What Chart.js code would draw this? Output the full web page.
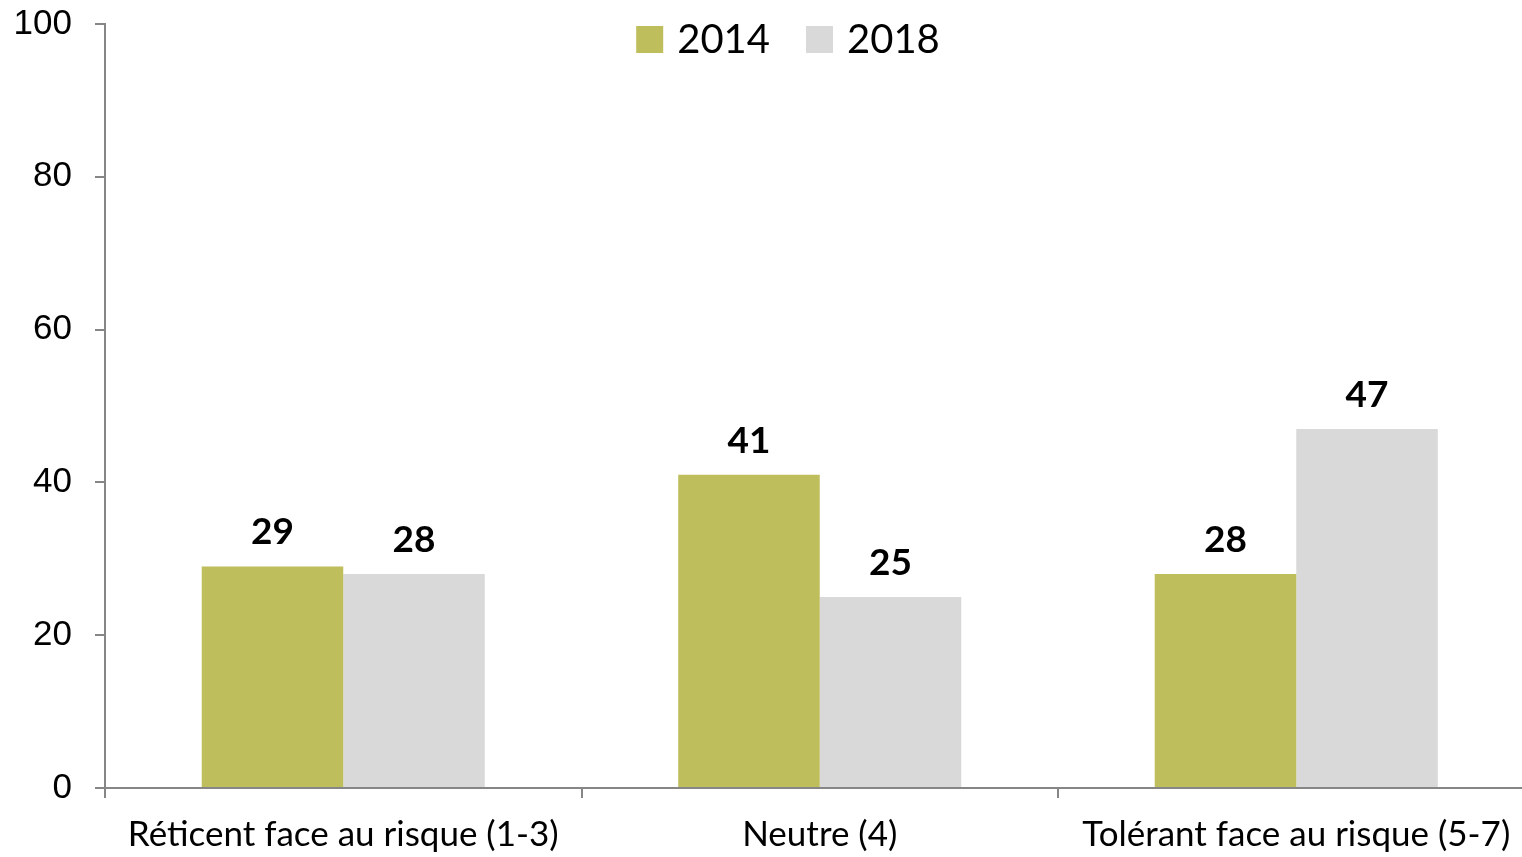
<!DOCTYPE html>
<html>
<head>
<meta charset="utf-8">
<script src="https://cdn.jsdelivr.net/npm/chart.js@4.4.0/dist/chart.umd.min.js"></script>
<style>
  html, body { margin: 0; padding: 0; overflow: hidden; background: #fff; }
  canvas { display: block; }
</style>
</head>
<body>
<canvas id="chart" width="1536" height="857"></canvas>
<script>
  const categories = ['Réticent face au risque (1-3)', 'Neutre (4)', 'Tolérant face au risque (5-7)'];
  const values2014 = [29, 41, 28];
  const values2018 = [28, 25, 47];
  const yTicks = [0, 20, 40, 60, 80, 100];

  const axisColor = '#868686';

  // value labels above each bar
  const valueLabels = {
    id: 'valueLabels',
    afterDatasetsDraw(chart) {
      const ctx = chart.ctx;
      ctx.save();
      ctx.font = 'bold 37px Lato';
      ctx.fillStyle = '#000';
      ctx.textAlign = 'center';
      ctx.textBaseline = 'alphabetic';
      chart.data.datasets.forEach((ds, i) => {
        chart.getDatasetMeta(i).data.forEach((bar, j) => {
          ctx.fillText(ds.data[j], bar.x, bar.y - 22);
        });
      });
      ctx.restore();
    }
  };

  // legend drawn inside the plot, top centre
  const topLegend = {
    id: 'topLegend',
    afterDraw(chart) {
      const ctx = chart.ctx;
      ctx.save();
      ctx.font = '40px Lato';
      ctx.textBaseline = 'alphabetic';
      ctx.textAlign = 'left';
      const box = 27, gap = 14, spacing = 36;
      const items = chart.data.datasets.map(ds => ({
        text: ds.label, color: ds.backgroundColor, w: ctx.measureText(ds.label).width
      }));
      const total = items.reduce((s, it) => s + box + gap + it.w, 0) + spacing * (items.length - 1);
      let x = 788 - total / 2;
      items.forEach(it => {
        ctx.fillStyle = it.color;
        ctx.fillRect(x, 26, box, box);
        ctx.fillStyle = '#000';
        ctx.fillText(it.text, x + box + gap, 53);
        x += box + gap + it.w + spacing;
      });
      ctx.restore();
    }
  };

  new Chart(document.getElementById('chart'), {
    type: 'bar',
    data: {
      labels: categories,
      datasets: [
        { label: '2014', data: values2014, backgroundColor: '#bebe5c' },
        { label: '2018', data: values2018, backgroundColor: '#d9d9d9' }
      ]
    },
    options: {
      responsive: false,
      animation: false,
      layout: { padding: { top: 24, right: 1.5, left: 0, bottom: 0 } },
      datasets: { bar: { categoryPercentage: 0.594, barPercentage: 1 } },
      plugins: { legend: { display: false }, tooltip: { enabled: false } },
      scales: {
        x: {
          afterFit: s => { s.height = 69; s.paddingLeft = 0; s.paddingRight = 0; },
          grid: { display: true, drawOnChartArea: false, offset: true, tickLength: 10, color: axisColor, lineWidth: 2 },
          border: { display: true, color: axisColor, width: 2 },
          ticks: { font: { family: 'Lato', size: 35 }, color: '#000', padding: 16, maxRotation: 0, autoSkip: false }
        },
        y: {
          min: 0,
          max: 100,
          afterFit: s => { s.width = 105; s.paddingTop = 0; s.paddingBottom = 0; },
          afterBuildTicks: s => { s.ticks = yTicks.map(v => ({ value: v })); },
          grid: { display: true, drawOnChartArea: false, tickLength: 10, color: axisColor, lineWidth: 2 },
          border: { display: true, color: axisColor, width: 2 },
          ticks: { font: { family: 'Liberation Sans', size: 35 }, color: '#000', padding: 23 }
        }
      }
    },
    plugins: [valueLabels, topLegend]
  });
</script>
</body>
</html>
